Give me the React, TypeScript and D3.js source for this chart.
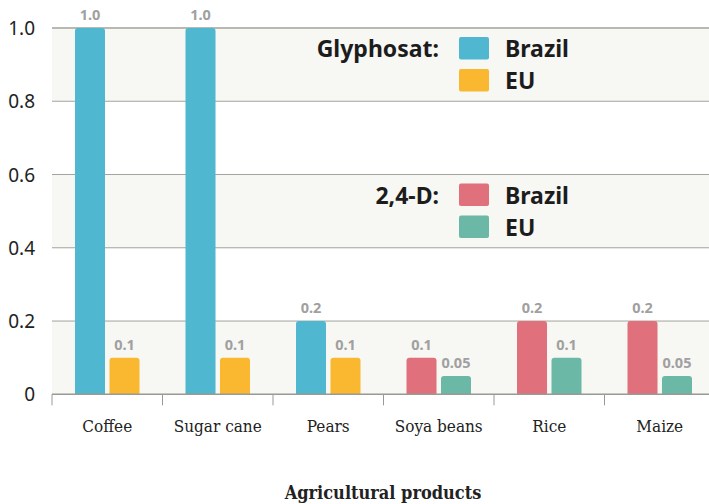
import * as React from 'react';
import * as d3 from 'd3';

const categories = ['Coffee', 'Sugar cane', 'Pears', 'Soya beans', 'Rice', 'Maize'];
const substance = ['Glyphosat', 'Glyphosat', 'Glyphosat', '2,4-D', '2,4-D', '2,4-D'];
const brazilValues = [1.0, 1.0, 0.2, 0.1, 0.2, 0.2];
const euValues = [0.1, 0.1, 0.1, 0.05, 0.1, 0.05];
const yTicks = [0, 0.2, 0.4, 0.6, 0.8, 1.0];
const legendGroups = ['Glyphosat', '2,4-D'];
const legendSeries = ['Brazil', 'EU'];
const xTitle = 'Agricultural products';

const colors: Record<string, Record<string, string>> = {
  'Glyphosat': {Brazil: '#4fb7cf', EU: '#f9b82f'},
  '2,4-D': {Brazil: '#e0707b', EU: '#6bb8a6'},
};

const fmt = (v: number) => (v === 1 ? '1.0' : String(v));

// rect with rounded top corners only
function topRounded(x: number, y: number, w: number, h: number, r: number) {
  r = Math.min(r, h, w / 2);
  return `M${x},${y + h}V${y + r}Q${x},${y} ${x + r},${y}H${x + w - r}Q${x + w},${y} ${x + w},${y + r}V${y + h}Z`;
}

export default function App() {
  const ref = React.useRef<SVGSVGElement>(null);

  React.useEffect(() => {
    const width = 709;
    const height = 504;
    const left = 52;
    const step = 110.5;

    const svg = d3.select(ref.current).attr('width', width).attr('height', height);
    svg.selectAll('*').remove();

    const x = d3.scaleBand<string>()
      .domain(categories)
      .range([left, left + step * categories.length]);
    const xInner = d3.scaleBand<string>()
      .domain(legendSeries)
      .range([0, x.bandwidth()])
      .paddingInner(0.13)
      .paddingOuter(0.667);
    const y = d3.scaleLinear().domain([0, 1]).range([394.3, 28]);

    // alternating background stripes
    const stripes = [[0.8, 1.0], [0.4, 0.6], [0, 0.2]];
    svg.append('g').selectAll('rect')
      .data(stripes)
      .join('rect')
      .attr('x', left)
      .attr('width', width - left)
      .attr('y', d => y(d[1]))
      .attr('height', d => y(d[0]) - y(d[1]))
      .attr('fill', '#f7f7f3');

    // grid lines
    svg.append('g').selectAll('line')
      .data(yTicks.filter(d => d > 0))
      .join('line')
      .attr('x1', left)
      .attr('x2', width)
      .attr('y1', d => y(d))
      .attr('y2', d => y(d))
      .attr('stroke', d => (d === 1 ? '#b9b9b2' : '#a3a39d'))
      .attr('stroke-width', d => (d === 1 ? 2 : 1));

    // y labels
    svg.append('g').selectAll('text')
      .data(yTicks)
      .join('text')
      .attr('x', 35)
      .attr('y', d => y(d) + 7)
      .attr('text-anchor', 'end')
      .attr('font-family', 'Noto Sans')
      .attr('font-size', 19)
      .attr('fill', '#222')
      .text(d => (d === 0 ? '0' : d.toFixed(1)));

    // legend
    const legend = svg.append('g');
    const legendTop: Record<string, number> = {'Glyphosat': 37, '2,4-D': 183.5};
    legendGroups.forEach(g => {
      const top = legendTop[g];
      legend.append('text')
        .attr('x', 439)
        .attr('y', top + 20)
        .attr('text-anchor', 'end')
        .attr('font-family', 'Noto Sans')
        .attr('font-weight', 700)
        .attr('font-size', 23)
        .attr('fill', '#1c1c1c')
        .text(g + ':');
      legendSeries.forEach((s, i) => {
        legend.append('rect')
          .attr('x', 459)
          .attr('y', top + i * 32)
          .attr('width', 30)
          .attr('height', 22.5)
          .attr('rx', 2)
          .attr('fill', colors[g][s]);
        legend.append('text')
          .attr('x', 505)
          .attr('y', top + 20 + i * 32)
          .attr('font-family', 'Noto Sans')
          .attr('font-weight', 700)
          .attr('font-size', 23)
          .attr('fill', '#1c1c1c')
          .text(s);
      });
    });

    // bars
    const rows = categories.flatMap((c, i) => [
      {cat: c, series: 'Brazil', value: brazilValues[i], sub: substance[i]},
      {cat: c, series: 'EU', value: euValues[i], sub: substance[i]},
    ]);
    const bars = svg.append('g');
    bars.selectAll('path')
      .data(rows)
      .join('path')
      .attr('d', d => {
        const bx = x(d.cat)! + xInner(d.series)!;
        return topRounded(bx, y(d.value), xInner.bandwidth(), y(0) - y(d.value), 3);
      })
      .attr('fill', d => colors[d.sub][d.series]);
    bars.selectAll('text')
      .data(rows)
      .join('text')
      .attr('x', d => x(d.cat)! + xInner(d.series)! + xInner.bandwidth() / 2)
      .attr('y', d => y(d.value) - 8)
      .attr('text-anchor', 'middle')
      .attr('font-family', 'Noto Sans')
      .attr('font-weight', 700)
      .attr('font-size', 14.5)
      .attr('fill', '#a0a0a0')
      .text(d => fmt(d.value));

    // x axis
    const axis = svg.append('g');
    axis.append('line')
      .attr('x1', left)
      .attr('x2', width)
      .attr('y1', y(0))
      .attr('y2', y(0))
      .attr('stroke', '#9a9a94')
      .attr('stroke-width', 1.5);
    axis.selectAll('line.tick')
      .data(categories)
      .join('line')
      .attr('class', 'tick')
      .attr('x1', d => x(d)!)
      .attr('x2', d => x(d)!)
      .attr('y1', y(0))
      .attr('y2', y(0) + 11)
      .attr('stroke', '#9a9a94')
      .attr('stroke-width', 1);
    axis.selectAll('text')
      .data(categories)
      .join('text')
      .attr('x', d => x(d)! + x.bandwidth() / 2)
      .attr('y', 432)
      .attr('text-anchor', 'middle')
      .attr('font-family', 'DejaVu Serif Condensed, DejaVu Serif')
      .attr('font-stretch', 'condensed')
      .attr('font-size', 17)
      .attr('fill', '#222')
      .text(d => d);

    svg.append('text')
      .attr('x', 383)
      .attr('y', 499)
      .attr('text-anchor', 'middle')
      .attr('font-family', 'DejaVu Serif Condensed, DejaVu Serif')
      .attr('font-stretch', 'condensed')
      .attr('font-weight', 700)
      .attr('font-size', 18)
      .attr('fill', '#222')
      .text(xTitle);
  }, []);

  return <svg ref={ref} style={{position: 'absolute', left: 0, top: 0, background: '#fff'}} />;
}
